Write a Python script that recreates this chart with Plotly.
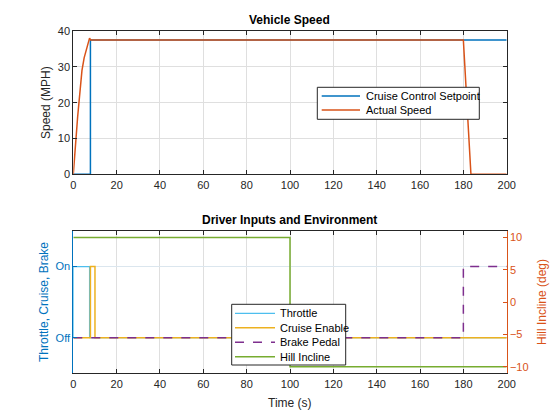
import plotly.graph_objects as go

# vehicle speed
setpoint_t = [0, 7.9, 7.9, 200]
setpoint_mph = [0, 0, 37.5, 37.5]
speed_t = [0, 0.5, 1, 1.5, 2, 2.5, 3, 3.5, 4, 5, 6, 7, 7.5, 8, 180, 183.5, 200]
speed_mph = [0, 4.8, 9, 12.8, 16, 19.3, 22.5, 26, 29, 32.5, 35, 37, 38, 37.5, 37.5, 0, 0]

# driver inputs
throttle_t = [0, 0, 7.5, 7.5, 200]
throttle = [0, 1, 1, 0, 0]
cruise_t = [0, 7.9, 7.9, 10, 10, 200]
cruise = [0, 0, 1, 1, 0, 0]
brake_t = [0, 180, 180, 200]
brake = [0, 0, 1, 1]
hill_t = [0, 100, 100, 200]
hill_deg = [10, 10, -10, -10]

BLUE = '#0072BD'
ORANGE = '#D95319'
DARK = '#262626'
FONT = 'Liberation Sans'

# page body has an 8px margin, so the figure is a bit smaller and everything is offset
W, H, OFF = 552, 412, 8


def px(x):
    return (x - OFF) / W


def py(y):
    return 1 - (y - OFF) / H


fig = go.Figure()

top_series = [
    ('Cruise Control Setpoint', setpoint_t, setpoint_mph, BLUE, 'solid', 1.5),
    ('Actual Speed', speed_t, speed_mph, ORANGE, 'solid', 1.5),
]
bot_series = [
    ('Throttle', throttle_t, throttle, '#4DBEEE', 'solid', 1.2, 'y3'),
    ('Cruise Enable', cruise_t, cruise, '#EDB120', 'solid', 1.5, 'y3'),
    ('Brake Pedal', brake_t, brake, '#7E2F8E', 'dash', 1.5, 'y3'),
    ('Hill Incline', hill_t, hill_deg, '#77AC30', 'solid', 1.5, 'y4'),
]

for name, t, v, col, dash, w in top_series:
    fig.add_trace(go.Scatter(x=t, y=v, mode='lines', name=name, showlegend=False,
                             line=dict(color=col, width=w, dash=dash), xaxis='x', yaxis='y'))
for name, t, v, col, dash, w, ax in bot_series:
    fig.add_trace(go.Scatter(x=t, y=v, mode='lines', name=name, showlegend=False,
                             line=dict(color=col, width=w, dash=dash), xaxis='x2', yaxis=ax))

xdom = [px(73.3), px(506.7)]
top_dom = [py(174.3), py(31)]
bot_dom = [py(373.3), py(231)]

tick_font = dict(family=FONT, size=11, color=DARK)
common_x = dict(range=[0, 200], dtick=20, showgrid=True, gridcolor='#dfdfdf', zeroline=False,
                showline=True, linecolor=DARK, linewidth=1, mirror='ticks', ticks='inside',
                ticklen=4, tickcolor=DARK, tickfont=tick_font, domain=xdom, automargin=False)

shapes = []
annotations = [
    dict(text='<b>Vehicle Speed</b>', x=(xdom[0] + xdom[1]) / 2, y=py(20), font=dict(size=12, color='black')),
    dict(text='<b>Driver Inputs and Environment</b>', x=(xdom[0] + xdom[1]) / 2, y=py(220),
         font=dict(size=12, color='black')),
    dict(text='Speed (MPH)', x=px(46), y=py(103), textangle=-90, font=dict(size=12, color=DARK)),
    dict(text='Throttle, Cruise, Brake', x=px(44), y=py(302), textangle=-90, font=dict(size=12, color=BLUE)),
    dict(text='Hill Incline (deg)', x=px(542), y=py(302), textangle=-90, font=dict(size=12, color=ORANGE)),
    dict(text='Time (s)', x=(xdom[0] + xdom[1]) / 2, y=py(403), font=dict(size=12, color=DARK)),
]


def add_legend(box, line_x, text_x, rows, entries):
    x0, x1, y0, y1 = box
    shapes.append(dict(type='rect', xref='paper', yref='paper', x0=px(x0), x1=px(x1), y0=py(y0), y1=py(y1),
                       fillcolor='white', line=dict(color=DARK, width=1), layer='above'))
    for row, entry in zip(rows, entries):
        name, col, dash, w = entry[0], entry[3], entry[4], entry[5]
        shapes.append(dict(type='line', xref='paper', yref='paper', x0=px(line_x[0]), x1=px(line_x[1]),
                           y0=py(row), y1=py(row), line=dict(color=col, width=w, dash=dash), layer='above'))
        annotations.append(dict(text=name, x=px(text_x), y=py(row), xanchor='left',
                                font=dict(size=11, color='black')))


add_legend((317.3, 479.3, 87.3, 119.3), (321.7, 360), 364, [96, 110], top_series)
add_legend((231.7, 345.7, 304.3, 365), (235, 275), 278, [313.3, 327.7, 342.3, 356.7], bot_series)

for a in annotations:
    a.setdefault('xanchor', 'center')
    a.update(xref='paper', yref='paper', showarrow=False, yanchor='middle')
    a['font'] = dict(a['font'], family=FONT)

fig.update_layout(
    width=W, height=H,
    margin=dict(l=0, r=0, t=0, b=0),
    paper_bgcolor='white', plot_bgcolor='white',
    font=dict(family=FONT, size=11, color=DARK),
    xaxis=dict(common_x, anchor='y'),
    yaxis=dict(range=[0, 40], dtick=10, domain=top_dom, showgrid=True, gridcolor='#dfdfdf',
               zeroline=False, showline=True, linecolor=DARK, mirror='ticks', ticks='inside',
               ticklen=4, tickcolor=DARK, tickfont=tick_font, anchor='x', automargin=False),
    xaxis2=dict(common_x, anchor='y3'),
    yaxis3=dict(range=[-0.5, 1.5], tickvals=[0, 1], ticktext=['Off', 'On'], domain=bot_dom,
                showgrid=True, gridcolor='#dbe6ee', zeroline=False, showline=True, linecolor=BLUE,
                ticks='inside', ticklen=4, tickcolor=BLUE, tickfont=dict(family=FONT, size=11, color=BLUE),
                anchor='x2', automargin=False),
    yaxis4=dict(range=[-11, 11], tickvals=[-10, -5, 0, 5, 10], overlaying='y3', side='right',
                showgrid=False, zeroline=False, showline=True, linecolor=ORANGE, ticks='inside',
                ticklen=4, tickcolor=ORANGE, tickfont=dict(family=FONT, size=11, color=ORANGE),
                anchor='x2', automargin=False),
    shapes=shapes,
    annotations=annotations,
)

fig.write_html("out.html")
